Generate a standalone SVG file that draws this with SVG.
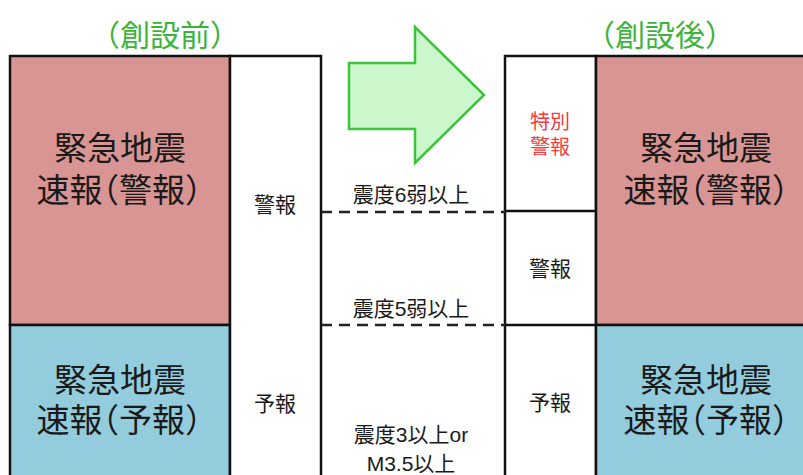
<svg xmlns="http://www.w3.org/2000/svg" width="803" height="475" viewBox="0 0 803 475">
<style>
text{font-family:"Liberation Sans","Noto Sans CJK JP","Noto Sans CJK SC",sans-serif;text-anchor:middle;fill:#1a1a1a}
.title{font-size:30px;fill:#3cb43c}
.big{font-size:33px;font-feature-settings:"halt"}
.sm{font-size:21px}
.mid{font-size:21px}
.red{fill:#f03c3c;font-size:20px}
.box{stroke:#111;stroke-width:2.5}
.dash{stroke:#222;stroke-width:2.5;stroke-dasharray:11 7;fill:none}
</style>
<rect width="803" height="475" fill="#fff"/>
<g id="title-before"><text class="title" x="165" y="46">（創設前）</text></g>
<g id="title-after"><text class="title" x="660" y="46">（創設後）</text></g>
<g id="arrow"><polygon points="349,63 415,63 415,27 484,95 415,163 415,129 349,129" fill="#ccf7cc" stroke="#3cc43c" stroke-width="2.5"/></g>
<g id="before-warning"><rect class="box" x="10" y="56" width="220" height="269" fill="#d99594"/>
<text class="big" x="120" y="160">緊急地震<tspan x="119" dy="42">速報（警報）</tspan></text></g>
<g id="before-forecast"><rect class="box" x="10" y="325" width="220" height="160" fill="#93cddd"/>
<text class="big" x="120" y="392">緊急地震<tspan x="119" dy="40">速報（予報）</tspan></text></g>
<g id="before-col"><rect class="box" x="230" y="56" width="91" height="429" fill="#fff"/>
<text class="sm" x="275" y="212">警報</text><text class="sm" x="275" y="411">予報</text></g>
<g id="after-col"><rect class="box" x="505" y="56" width="91" height="429" fill="#fff"/>
<line class="box" x1="505" y1="211" x2="596" y2="211"/><line class="box" x1="505" y1="325" x2="596" y2="325"/>
<text class="red" x="550" y="129">特別<tspan x="550" dy="25">警報</tspan></text>
<text class="sm" x="550" y="276">警報</text><text class="sm" x="550" y="410">予報</text></g>
<g id="after-warning"><rect class="box" x="596" y="56" width="220" height="269" fill="#d99594"/>
<text class="big" x="706" y="160">緊急地震<tspan x="706" dy="42">速報（警報）</tspan></text></g>
<g id="after-forecast"><rect class="box" x="596" y="325" width="220" height="160" fill="#93cddd"/>
<text class="big" x="706" y="392">緊急地震<tspan x="706" dy="40">速報（予報）</tspan></text></g>
<g id="connectors"><line class="dash" x1="321" y1="212" x2="505" y2="212"/><line class="dash" x1="321" y1="325" x2="505" y2="325"/></g>
<g id="thresholds"><text class="mid" x="411" y="202">震度6弱以上</text><text class="mid" x="411" y="316">震度5弱以上</text>
<text class="mid" x="411" y="442">震度3以上or<tspan x="411" dy="29">M3.5以上</tspan></text></g>
</svg>
